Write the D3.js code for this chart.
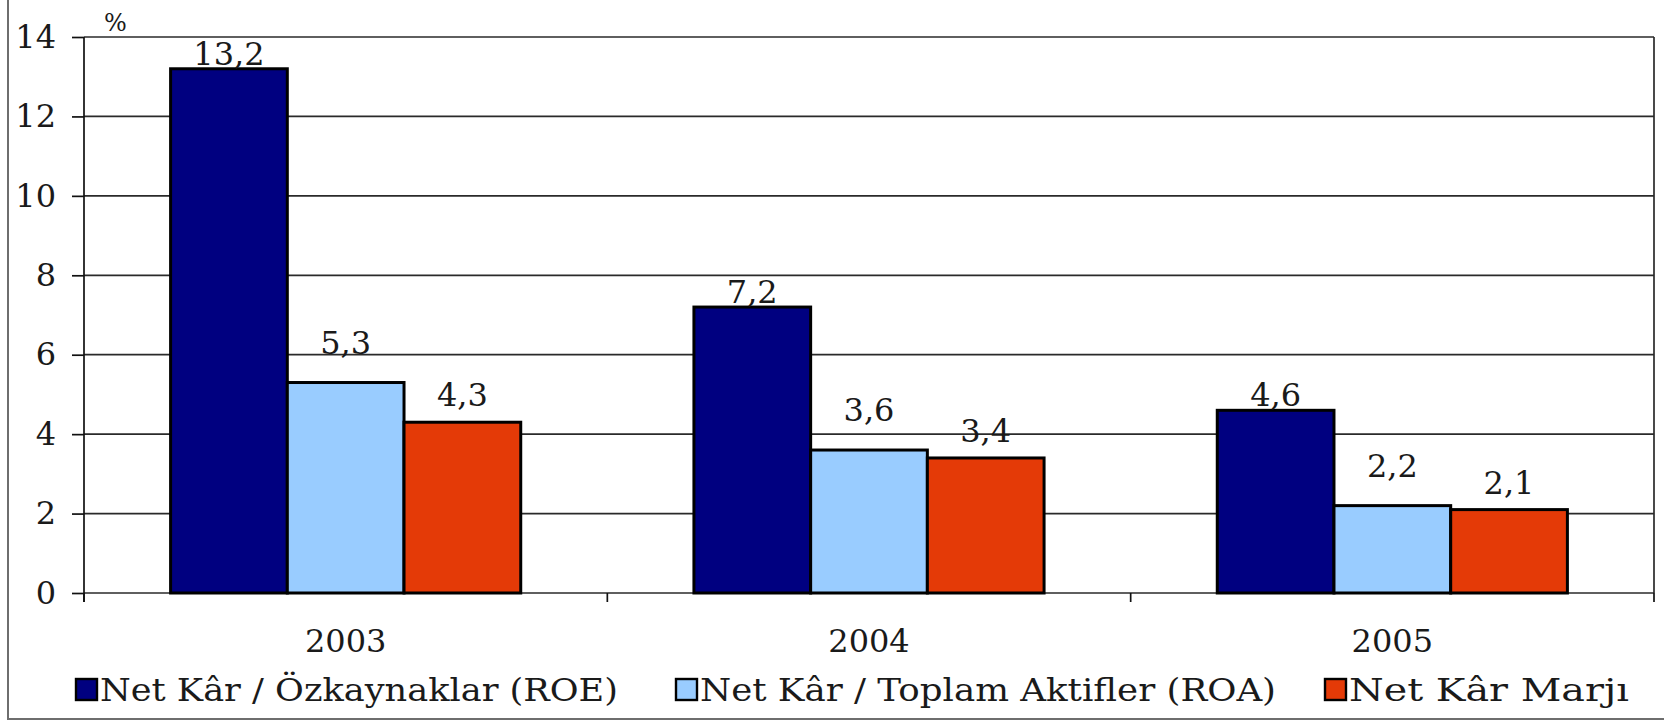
<!DOCTYPE html>
<html>
<head>
<meta charset="utf-8">
<script src="https://cdn.jsdelivr.net/npm/d3@7"></script>
<style>
  body { margin: 0; background: #fff; }
  text { font-family: "DejaVu Serif", serif; fill: #1a1a1a; }
</style>
</head>
<body>
<div id="chart"></div>
<script>
// chart data
var years = ["2003", "2004", "2005"];
var roe = [13.2, 7.2, 4.6];
var roa = [5.3, 3.6, 2.2];
var marj = [4.3, 3.4, 2.1];
var seriesNames = ["Net Kâr / Özkaynaklar (ROE)", "Net Kâr / Toplam Aktifler (ROA)", "Net Kâr Marjı"];
var yTicks = [0, 2, 4, 6, 8, 10, 12, 14];

var width = 1664;
var height = 721;
var plot = { left: 84, top: 37, right: 1654, bottom: 593 };
var fontSize = "32px";

var colors = ["#000080", "#99ccff", "#e43a07"];
// how far above the bar top each series' value label sits
var labelLift = [4, 29, 16];

var svg = d3.select("#chart")
  .append("svg")
  .attr("width", width)
  .attr("height", height);

// outer frame (right / top are cut off in the original)
svg.append("rect")
  .attr("x", 8)
  .attr("y", -10)
  .attr("width", width + 20)
  .attr("height", 729)
  .attr("fill", "none")
  .attr("stroke", "#6e6e6e")
  .attr("stroke-width", 2);

var x0 = d3.scaleBand()
  .domain(years)
  .range([plot.left, plot.right]);

var x1 = d3.scaleBand()
  .domain([0, 1, 2])
  .range([0, x0.bandwidth()])
  .paddingOuter(0.742);

var y = d3.scaleLinear()
  .domain([0, 14])
  .range([plot.bottom, plot.top]);

// gridlines
svg.append("g")
  .selectAll("line")
  .data(yTicks)
  .enter().append("line")
  .attr("x1", plot.left)
  .attr("x2", plot.right)
  .attr("y1", function(d) { return y(d); })
  .attr("y2", function(d) { return y(d); })
  .attr("stroke", "#2a2a2a")
  .attr("stroke-width", 1.7);

// right edge of plot area
svg.append("line")
  .attr("x1", plot.right).attr("x2", plot.right)
  .attr("y1", plot.top).attr("y2", plot.bottom)
  .attr("stroke", "#2a2a2a")
  .attr("stroke-width", 1.7);

// y axis
var yAxis = svg.append("g")
  .attr("transform", "translate(" + plot.left + ",0)")
  .call(d3.axisLeft(y).tickValues(yTicks).tickSize(12).tickPadding(16).tickFormat(d3.format("d")));
yAxis.select(".domain").attr("stroke", "#111").attr("stroke-width", 1.7)
  .attr("d", "M0," + plot.top + "V" + (plot.bottom + 9));
yAxis.selectAll(".tick line").attr("stroke", "#111").attr("stroke-width", 1.7);
yAxis.selectAll(".tick text")
  .style("font-family", "DejaVu Serif")
  .style("font-size", fontSize)
  .attr("fill", "#1a1a1a");

// x axis ticks between categories
var xEdges = years.map(function(d) { return x0(d); }).concat([plot.right]);
svg.append("g")
  .selectAll("line")
  .data(xEdges)
  .enter().append("line")
  .attr("x1", function(d) { return d; })
  .attr("x2", function(d) { return d; })
  .attr("y1", plot.bottom)
  .attr("y2", plot.bottom + 9)
  .attr("stroke", "#111")
  .attr("stroke-width", 1.7);

svg.append("g")
  .selectAll("text")
  .data(years)
  .enter().append("text")
  .attr("x", function(d) { return x0(d) + x0.bandwidth() / 2; })
  .attr("y", 652)
  .attr("text-anchor", "middle")
  .style("font-size", fontSize)
  .text(function(d) { return d; });

// bars
var seriesData = [roe, roa, marj];
var groups = svg.append("g")
  .selectAll("g")
  .data(years)
  .enter().append("g")
  .attr("transform", function(d) { return "translate(" + x0(d) + ",0)"; });

groups.selectAll("rect")
  .data(function(d, i) { return seriesData.map(function(s, k) { return { k: k, v: s[i] }; }); })
  .enter().append("rect")
  .attr("x", function(d) { return x1(d.k); })
  .attr("y", function(d) { return y(d.v); })
  .attr("width", x1.bandwidth())
  .attr("height", function(d) { return plot.bottom - y(d.v); })
  .attr("fill", function(d) { return colors[d.k]; })
  .attr("stroke", "#000")
  .attr("stroke-width", 3);

groups.selectAll("text")
  .data(function(d, i) { return seriesData.map(function(s, k) { return { k: k, v: s[i] }; }); })
  .enter().append("text")
  .attr("x", function(d) { return x1(d.k) + x1.bandwidth() / 2; })
  .attr("y", function(d) { return y(d.v) - labelLift[d.k]; })
  .attr("text-anchor", "middle")
  .style("font-size", fontSize)
  .text(function(d) { return String(d.v).replace(".", ","); });

// unit label
svg.append("text")
  .attr("x", 104)
  .attr("y", 31)
  .style("font-size", "24px")
  .attr("fill", "#444")
  .text("%");

// legend
var legendX = [76, 676, 1325];
var legendW = [518, 576, 280];
var legend = svg.append("g")
  .selectAll("g")
  .data(seriesNames)
  .enter().append("g")
  .attr("transform", function(d, i) { return "translate(" + legendX[i] + ",679)"; });

legend.append("rect")
  .attr("width", 21)
  .attr("height", 21)
  .attr("fill", function(d, i) { return colors[i]; })
  .attr("stroke", "#000")
  .attr("stroke-width", 2.4);

legend.append("text")
  .attr("x", 24)
  .attr("y", 22)
  .attr("textLength", function(d, i) { return legendW[i]; })
  .attr("lengthAdjust", "spacingAndGlyphs")
  .style("font-size", fontSize)
  .text(function(d) { return d; });
</script>
</body>
</html>
